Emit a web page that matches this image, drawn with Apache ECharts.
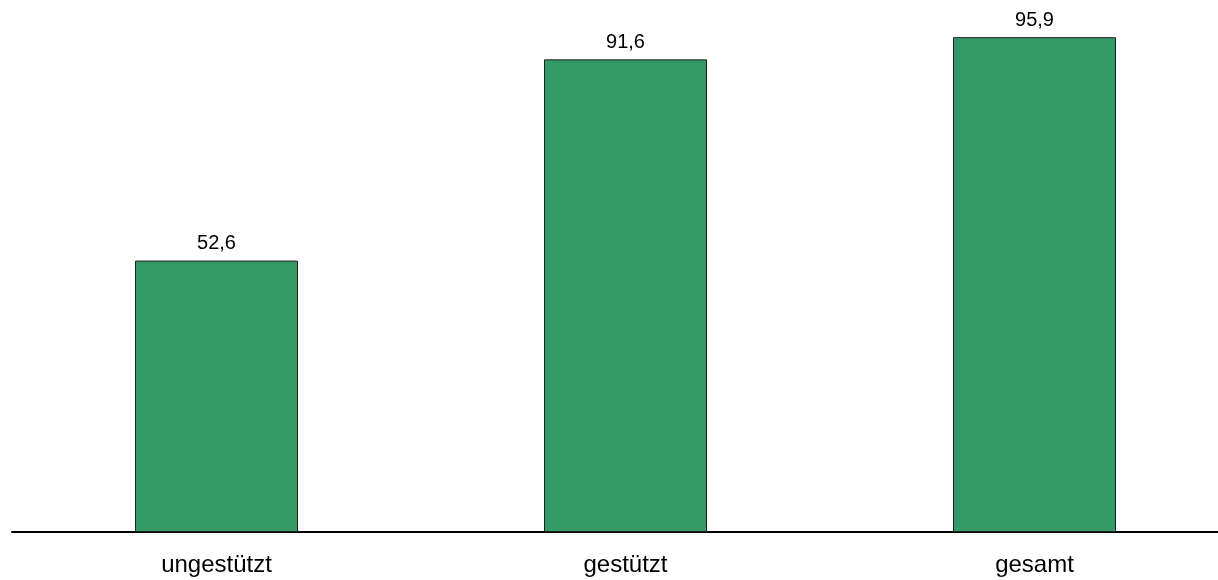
<!DOCTYPE html>
<html>
<head>
<meta charset="utf-8">
<script src="https://cdn.jsdelivr.net/npm/echarts@6/dist/echarts.min.js"></script>
<style>
  html, body { margin: 0; padding: 0; background: #ffffff; }
  #chart { width: 1218px; height: 580px; }
</style>
</head>
<body>
<div id="chart"></div>
<script>
// Kategorien und Werte (Prozent)
const categories = ['ungestützt', 'gestützt', 'gesamt'];
const values = [52.6, 91.6, 95.9];

const chart = echarts.init(document.getElementById('chart'), null, { renderer: 'canvas' });

chart.setOption({
  animation: false,
  backgroundColor: '#ffffff',
  // the plot runs past the right edge, so the axis line is cut off there
  grid: { left: 12, top: 16, bottom: 48, width: 1227, containLabel: false, outerBoundsMode: 'none' },
  xAxis: {
    type: 'category',
    data: categories,
    axisLine: { show: true, lineStyle: { color: '#000000', width: 2 } },
    axisTick: { show: false },
    axisLabel: {
      color: '#000000',
      fontFamily: 'Liberation Sans, Arial, sans-serif',
      fontSize: 24,
      margin: 21
    }
  },
  yAxis: {
    type: 'value',
    min: 0,
    max: 100,
    show: false,
    splitLine: { show: false }
  },
  series: [{
    type: 'bar',
    data: values,
    barWidth: 163,
    itemStyle: { color: '#339966', borderColor: '#222222', borderWidth: 1 },
    label: {
      show: true,
      position: 'top',
      distance: 7,
      color: '#000000',
      fontFamily: 'Liberation Sans, Arial, sans-serif',
      fontSize: 20,
      formatter: p => p.value.toFixed(1).replace('.', ',')
    }
  }]
});
</script>
</body>
</html>
